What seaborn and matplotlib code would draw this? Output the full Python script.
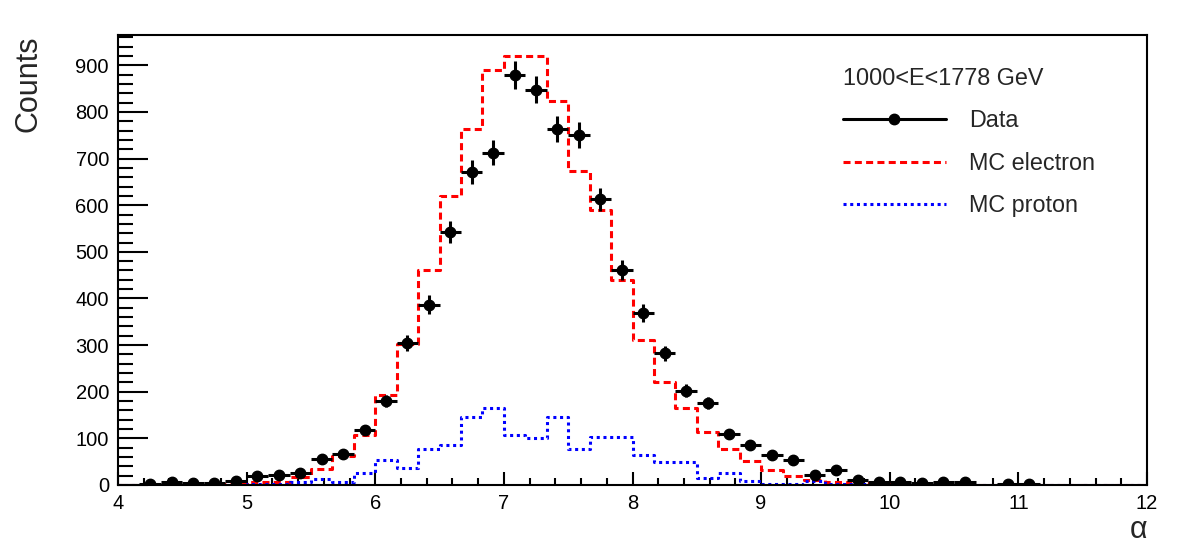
import numpy as np
import matplotlib
matplotlib.use("Agg")
import matplotlib.pyplot as plt
from matplotlib.lines import Line2D
from matplotlib.ticker import MultipleLocator
import seaborn as sns

# 48 bins of width 1/6 between alpha = 4 and 12
bin_edges = 4 + np.arange(49) / 6
bin_centers = 0.5 * (bin_edges[:-1] + bin_edges[1:])

data_counts = np.array([
    0, 2, 6, 4, 5, 8, 20, 22, 25, 56, 66, 118,
    180, 304, 387, 542, 672, 713, 879, 848, 764, 751, 613, 461,
    369, 282, 202, 176, 109, 85, 64, 54, 22, 32, 11, 6,
    6, 4, 7, 6, 0, 2, 2, 0, 0, 0, 0, 0,
])
mc_electron = np.array([
    0, 0, 0, 0, 1, 3, 7, 7, 17, 34, 63, 107,
    193, 303, 462, 620, 764, 891, 921, 921, 823, 673, 589, 439,
    312, 221, 166, 113, 78, 52, 32, 19, 11, 7, 5, 3,
    2, 2, 1, 1, 0, 0, 0, 0, 0, 0, 0, 0,
])
mc_proton = np.array([
    0, 0, 1, 1, 1, 1, 2, 2, 7, 12, 7, 25,
    54, 36, 78, 86, 145, 166, 107, 100, 145, 78, 102, 102,
    64, 49, 49, 14, 25, 8, 3, 2, 8, 3, 2, 1,
    1, 1, 0, 0, 0, 0, 0, 0, 0, 0, 0, 0,
])
energy_label = "1000<E<1778 GeV"
series_labels = ["Data", "MC electron", "MC proton"]

sns.set_style("ticks")
plt.rcParams['font.family'] = ['Liberation Sans', 'DejaVu Sans']

fig = plt.figure(figsize=(11.82, 5.59), dpi=100)
ax = fig.add_axes([118 / 1182, 1 - 485 / 559, 1029 / 1182, 450 / 559])

red_dash = (0, (2.3, 1.4))
blue_dot = (0, (1.0, 1.2))


def step_hist(counts, color, ls):
    # histogram outline: last bin repeated so steps-post closes at the edge
    y = np.append(counts, counts[-1])
    sns.lineplot(x=bin_edges, y=y, drawstyle="steps-post", estimator=None,
                 color=color, linewidth=2.2, linestyle=ls, ax=ax)


step_hist(mc_electron, "#ff0000", red_dash)
step_hist(mc_proton, "#0000ff", blue_dot)

# empty bins are not drawn (ROOT style)
mask = data_counts > 0
ax.errorbar(bin_centers[mask], data_counts[mask], xerr=1 / 12,
            yerr=np.sqrt(data_counts[mask]), fmt="o", color="black",
            ms=7.5, elinewidth=2.2, capsize=0, zorder=5)

ax.set_xlim(4, 12)
ax.set_ylim(0, 965)
ax.xaxis.set_major_locator(MultipleLocator(1))
ax.xaxis.set_minor_locator(MultipleLocator(0.2))
ax.yaxis.set_major_locator(MultipleLocator(100))
ax.yaxis.set_minor_locator(MultipleLocator(20))

ax.tick_params(axis="both", which="both", direction="in", top=False, right=False,
               width=1.5, color="black", labelsize=14.5, labelcolor="black")
ax.tick_params(axis="y", which="major", length=21.6, pad=6.5)
ax.tick_params(axis="y", which="minor", length=10.8)
ax.tick_params(axis="x", which="major", length=9.4, pad=6.5)
ax.tick_params(axis="x", which="minor", length=5)
for sp in ax.spines.values():
    sp.set_visible(True)
    sp.set_color("black")
    sp.set_linewidth(1.5)

ax.set_ylabel("Counts", fontsize=22, loc="top")
ax.yaxis.set_label_coords(-0.072, 1.0)
ax.set_xlabel("α", fontsize=22, loc="right")
ax.xaxis.set_label_coords(1.0, -0.066)

handles = [
    Line2D([], [], color="black", lw=2.2, marker="o", ms=7.5),
    Line2D([], [], color="#ff0000", lw=2.2, linestyle=red_dash),
    Line2D([], [], color="#0000ff", lw=2.2, linestyle=blue_dot),
]
ax.legend(handles, series_labels, title=energy_label, loc="upper left",
          bbox_to_anchor=(0.7045, 0.929), frameon=False, fontsize=16.8,
          title_fontsize=16.8, handlelength=4.4, handletextpad=1.0,
          labelspacing=0.83, borderpad=0, borderaxespad=0, alignment="left")

fig.savefig("out.png", dpi=100)
